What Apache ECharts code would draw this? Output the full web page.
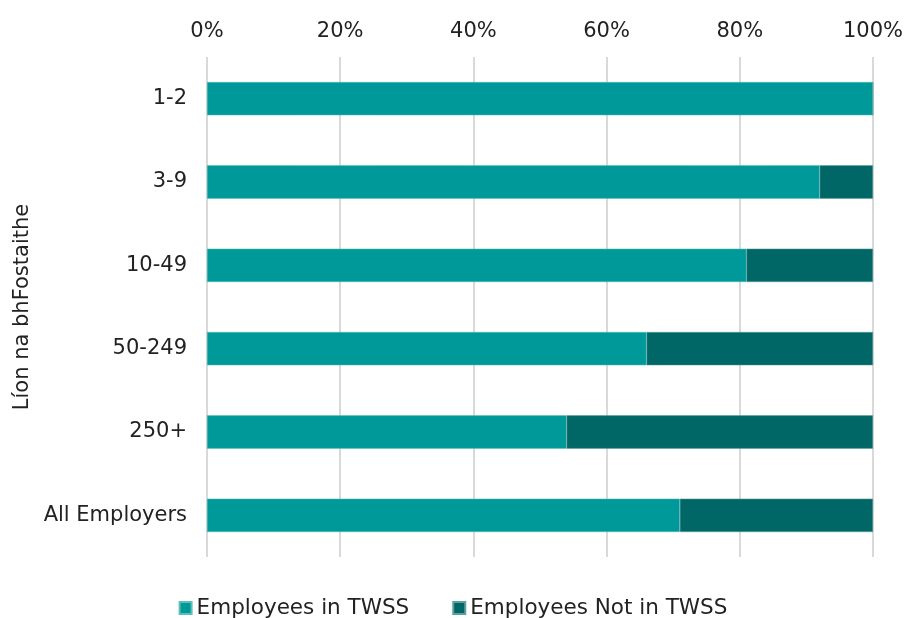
<!DOCTYPE html>
<html>
<head>
<meta charset="utf-8">
<script src="https://cdn.jsdelivr.net/npm/echarts@6/dist/echarts.min.js"></script>
<style>
  html, body { margin: 0; padding: 0; background: #fff; }
  #chart { width: 906px; height: 618px; }
</style>
</head>
<body>
<div id="chart"></div>
<script>
  // categories listed top to bottom
  var categories = ['1-2', '3-9', '10-49', '50-249', '250+', 'All Employers'];
  var inTwss = [100, 92, 81, 66, 54, 71];
  var notInTwss = [0, 8, 19, 34, 46, 29];
  var xTicks = [0, 20, 40, 60, 80, 100];

  var font = 'DejaVu Sans, Verdana, sans-serif';
  var fs = 21;
  var chart = echarts.init(document.getElementById('chart'));

  chart.setOption({
    backgroundColor: '#fff',
    animation: false,
    textStyle: { fontFamily: font },
    grid: { left: 207, right: 33, top: 57, bottom: 61, containLabel: false },
    legend: {
      top: 592,
      left: 'center',
      itemWidth: 12,
      itemHeight: 12,
      itemGap: 43,
      icon: 'rect',
      textStyle: { fontSize: 21.5, color: '#222', fontFamily: font },
      data: ['Employees in TWSS', 'Employees Not in TWSS']
    },
    xAxis: {
      type: 'value',
      position: 'top',
      min: xTicks[0],
      max: xTicks[xTicks.length - 1],
      interval: 20,
      axisLine: { show: false },
      axisTick: { show: false },
      axisLabel: { fontSize: fs, color: '#222', margin: 15, formatter: '{value}%' },
      splitLine: { lineStyle: { color: '#d9d9d9', width: 2 } }
    },
    yAxis: {
      type: 'category',
      inverse: true,
      data: categories,
      name: 'Líon na bhFostaithe',
      nameLocation: 'middle',
      nameGap: 174,
      nameRotate: 90,
      nameTextStyle: { fontSize: fs, color: '#222' },
      axisLine: { show: false },
      axisTick: { show: false },
      axisLabel: { fontSize: fs, color: '#222', margin: 20 }
    },
    series: [
      {
        name: 'Employees in TWSS',
        type: 'bar',
        stack: 'total',
        barWidth: '40%',
        data: inTwss,
        itemStyle: { color: '#009999', borderColor: '#5fbdbd', borderWidth: 0.5 }
      },
      {
        name: 'Employees Not in TWSS',
        type: 'bar',
        stack: 'total',
        barWidth: '40%',
        data: notInTwss,
        itemStyle: { color: '#006666', borderColor: '#5f9f9f', borderWidth: 0.5 }
      }
    ]
  });
</script>
</body>
</html>
